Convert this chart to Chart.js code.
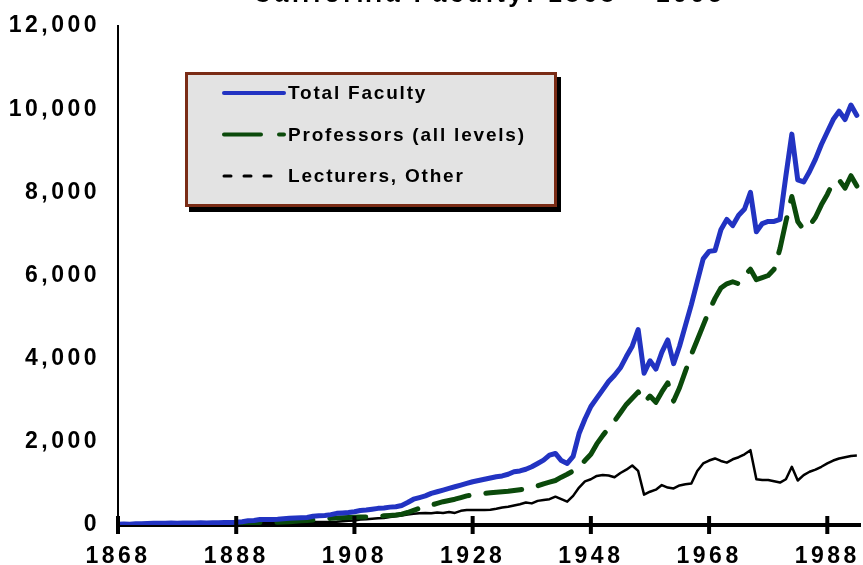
<!DOCTYPE html>
<html>
<head>
<meta charset="utf-8">
<script src="https://cdn.jsdelivr.net/npm/chart.js@4"></script>
<style>
    html, body { margin: 0; padding: 0; background: #fff; }
    .wrap { width: 863px; height: 565px; overflow: hidden; position: relative; }
    #lineChart { position: absolute; left: 0; top: -20px; }
</style>
</head>
<body>
<div class="wrap">
    <canvas id="lineChart" width="863" height="585"></canvas>
</div>
<script>
//============================================= Data =============================================//
const years = [];
for (let y = 1868; y <= 1993; y++) years.push(y);

const tickYears = [1868, 1888, 1908, 1928, 1948, 1968, 1988];

const totalFaculty = [
    20, 25, 20, 30, 30, 35, 40, 40, 45, 50,            // 1868-1877
    45, 50, 50, 50, 55, 50, 55, 55, 60, 60,            // 1878-1887
    65, 80, 100, 110, 130, 130, 135, 140, 150, 160,    // 1888-1897
    170, 175, 180, 210, 220, 230, 250, 280, 290, 300,  // 1898-1907
    320, 350, 360, 380, 400, 410, 430, 440, 470, 540,  // 1908-1917
    620, 660, 700, 760, 800, 840, 880, 920, 960, 1000, // 1918-1927
    1040, 1070, 1100, 1130, 1160, 1180, 1220, 1280, 1300, 1340, // 1928-1937
    1400, 1480, 1560, 1680, 1720, 1550, 1480, 1650, 2200, 2550, // 1938-1947
    2850, 3050, 3250, 3450, 3600, 3780, 4050, 4300, 4700, 3650, // 1948-1957
    3950, 3750, 4150, 4450, 3880, 4300, 4800, 5300, 5850, 6400, // 1958-1967
    6580, 6600, 7100, 7350, 7200, 7450, 7600, 8000, 7050, 7250, // 1968-1977
    7300, 7300, 7350, 8400, 9400, 8300, 8250, 8500, 8800, 9150, // 1978-1987
    9450, 9750, 9950, 9750, 10100, 9850                         // 1988-1993
];

const professors = [
    10, 10, 10, 15, 15, 20, 20, 20, 25, 25,            // 1868-1877
    25, 30, 30, 30, 30, 30, 35, 35, 35, 40,            // 1878-1887
    40, 45, 50, 55, 60, 60, 65, 65, 70, 80,            // 1888-1897
    90, 100, 110, 120, 140, 150, 160, 170, 175, 180,   // 1898-1907
    185, 190, 195, 200, 210, 220, 230, 240, 260, 300,  // 1908-1917
    350, 400, 450, 480, 520, 560, 590, 620, 660, 700,  // 1918-1927
    720, 740, 760, 775, 790, 800, 810, 830, 850, 870,  // 1928-1937
    900, 940, 990, 1030, 1070, 1150, 1220, 1300, 1380, 1550, // 1938-1947
    1700, 1950, 2150, 2330, 2500, 2700, 2900, 3050, 3200, 2950, // 1948-1957
    3100, 2950, 3200, 3420, 2980, 3300, 3700, 4100, 4450, 4800, // 1958-1967
    5150, 5450, 5700, 5800, 5850, 5800, 6000, 6150, 5900, 5950, // 1968-1977
    6000, 6150, 6650, 7300, 7900, 7300, 7100, 7200, 7400, 7700, // 1978-1987
    7950, 8250, 8300, 8100, 8400, 8150                          // 1988-1993
];

const lecturers = [
    5, 5, 8, 10, 10, 12, 15, 15, 18, 20,               // 1868-1877
    20, 22, 25, 25, 28, 30, 30, 32, 35, 38,            // 1878-1887
    40, 42, 45, 50, 55, 60, 60, 62, 65, 68,            // 1888-1897
    70, 70, 70, 72, 72, 75, 75, 80, 90, 100,           // 1898-1907
    110, 130, 140, 150, 160, 170, 190, 210, 230, 250,  // 1908-1917
    270, 280, 290, 280, 300, 290, 310, 290, 340, 360,  // 1918-1927
    360, 360, 360, 365, 390, 420, 440, 470, 500, 540,  // 1928-1937
    520, 580, 600, 620, 680, 620, 560, 700, 900, 1050, // 1938-1947
    1100, 1180, 1200, 1190, 1150, 1250, 1330, 1430, 1300, 730, // 1948-1957
    800, 850, 960, 900, 880, 950, 980, 1000, 1300, 1480, // 1958-1967
    1550, 1600, 1540, 1500, 1580, 1630, 1700, 1800, 1100, 1080, // 1968-1977
    1080, 1050, 1020, 1100, 1400, 1070, 1200, 1280, 1330, 1400, // 1978-1987
    1480, 1550, 1600, 1630, 1660, 1670                          // 1988-1993
];

const toPoints = (vals) => vals.map((v, i) => ({ x: years[i], y: v }));

//============================================= Plugins =============================================//
const FONT = "'Liberation Sans', Arial, sans-serif";

const spacing = {
    id: 'spacing',
    beforeDraw(chart) {
        chart.ctx.save();
        chart.ctx.letterSpacing = '3.5px';
    },
    afterDraw(chart) {
        chart.ctx.restore();
    }
};

// tick marks that cross the x axis
const crossTicks = {
    id: 'crossTicks',
    afterDraw(chart) {
        const { ctx, scales: { x }, chartArea } = chart;
        ctx.save();
        ctx.strokeStyle = '#000';
        ctx.lineWidth = 4;
        tickYears.forEach(v => {
            const px = x.getPixelForValue(v);
            ctx.beginPath();
            ctx.moveTo(px, chartArea.bottom - 9);
            ctx.lineTo(px, chartArea.bottom + 9);
            ctx.stroke();
        });
        ctx.restore();
    }
};

// boxed legend with brown border and drop shadow
const boxLegend = {
    id: 'boxLegend',
    afterDraw(chart) {
        const { ctx } = chart;
        const bx = 185, by = 92, bw = 372, bh = 135;
        ctx.save();
        ctx.fillStyle = '#000';
        ctx.fillRect(bx + 4, by + 5, bw, bh);
        ctx.fillStyle = '#e3e3e3';
        ctx.fillRect(bx, by, bw, bh);
        ctx.strokeStyle = '#7a2c16';
        ctx.lineWidth = 3;
        ctx.strokeRect(bx + 1.5, by + 1.5, bw - 3, bh - 3);

        const legendDash = [[], [37, 18], [7, 13]];
        chart.data.datasets.forEach((ds, i) => {
            const ly = by + 21 + i * 41.5;
            ctx.beginPath();
            ctx.setLineDash(legendDash[i]);
            ctx.lineCap = 'round';
            ctx.strokeStyle = ds.borderColor;
            ctx.lineWidth = i === 2 ? 3 : 4;
            ctx.moveTo(224, ly);
            ctx.lineTo(284, ly);
            ctx.stroke();

            ctx.setLineDash([]);
            ctx.fillStyle = '#000';
            ctx.font = 'bold 19px ' + FONT;
            ctx.letterSpacing = '1.8px';
            ctx.textBaseline = 'middle';
            ctx.fillText(ds.label, 288, ly + 1);
        });
        ctx.restore();
    }
};

//============================================= Line chart =============================================//
const lineConfig = {
    type: 'line',
    data: {
        datasets: [
            {
                label: 'Total Faculty',
                data: toPoints(totalFaculty),
                borderColor: '#2233c2',
                borderWidth: 5,
                borderCapStyle: 'round',
                borderJoinStyle: 'round'
            },
            {
                label: 'Professors (all levels)',
                data: toPoints(professors),
                borderColor: '#0b4a0b',
                borderWidth: 5,
                borderDash: [36, 17],
                borderCapStyle: 'round',
                borderJoinStyle: 'round'
            },
            {
                label: 'Lecturers, Other',
                data: toPoints(lecturers),
                borderColor: '#000000',
                borderWidth: 2.5,
                borderJoinStyle: 'round'
            }
        ]
    },
    options: {
        responsive: false,
        animation: false,
        pointRadius: 0,
        tension: 0,
        layout: {
            padding: { left: 0, right: 0, top: 0, bottom: 0 }
        },
        plugins: {
            legend: { display: false },
            tooltip: { enabled: false },
            title: {
                display: true,
                text: 'California Faculty: 1868 – 1995',
                fullSize: false,
                color: '#000',
                font: { family: FONT, size: 25, weight: 'bold' },
                padding: { top: 0, bottom: 16 }
            }
        },
        scales: {
            x: {
                type: 'linear',
                min: 1868,
                max: 1993.6,
                afterFit: (scale) => { scale.height = 40; },
                afterBuildTicks: (scale) => {
                    scale.ticks = tickYears.map(v => ({ value: v }));
                },
                grid: { display: false },
                border: { display: true, color: '#000', width: 4 },
                ticks: {
                    color: '#000',
                    padding: 10,
                    font: { family: FONT, size: 23, weight: 'bold' },
                    callback: (v) => String(v)
                }
            },
            y: {
                min: 0,
                max: 12000,
                afterFit: (scale) => { scale.width = 118; },
                grid: { display: false },
                border: { display: true, color: '#000', width: 2 },
                ticks: {
                    stepSize: 2000,
                    color: '#000',
                    padding: 10,
                    font: { family: FONT, size: 23, weight: 'bold' },
                    callback: (v) => v.toLocaleString('en-US')
                }
            }
        }
    },
    plugins: [spacing, crossTicks, boxLegend]
};

new Chart(document.getElementById('lineChart'), lineConfig);
</script>
</body>
</html>
